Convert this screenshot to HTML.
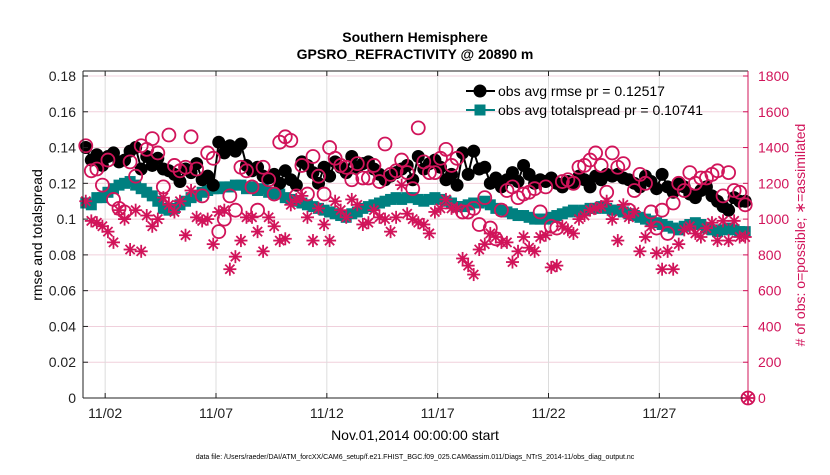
<!DOCTYPE html>
<html><head><meta charset="utf-8"><style>
body{margin:0;background:#fff;}
svg{font-family:"Liberation Sans",sans-serif;}
</style></head><body>
<svg id="chart" width="830" height="470">
<rect width="830" height="470" fill="#fff"/>
<text x="415" y="42" text-anchor="middle" font-size="14" font-weight="bold">Southern Hemisphere</text>
<text x="415" y="59" text-anchor="middle" font-size="14" font-weight="bold">GPSRO_REFRACTIVITY @ 20890 m</text>
<g id="grid"></g><g id="series"></g><g id="axes"></g>
<text transform="translate(42,235) rotate(-90)" text-anchor="middle" font-size="14">rmse and totalspread</text>
<text transform="translate(805,235) rotate(-90)" text-anchor="middle" font-size="14" fill="#d1145a"># of obs: o=possible; ∗=assimilated</text>
<text x="415" y="440" text-anchor="middle" font-size="14">Nov.01,2014 00:00:00 start</text>
<text x="415" y="459" text-anchor="middle" font-size="7">data file: /Users/raeder/DAI/ATM_forcXX/CAM6_setup/f.e21.FHIST_BGC.f09_025.CAM6assim.011/Diags_NTrS_2014-11/obs_diag_output.nc</text>
<g>
<line x1="466" y1="91" x2="495" y2="91" stroke="#000" stroke-width="2"/>
<circle cx="480" cy="91" r="6.5" fill="#000"/>
<text x="498" y="96" font-size="14">obs avg rmse pr = 0.12517</text>
<line x1="466" y1="110" x2="495" y2="110" stroke="#008080" stroke-width="2"/>
<rect x="474.5" y="104.5" width="11" height="11" fill="#008080"/>
<text x="498" y="115" font-size="14">obs avg totalspread pr = 0.10741</text>
</g>
</svg>
<script>
const xTickLabels=["11/02","11/07","11/12","11/17","11/22","11/27"];
const xTickDays=[1,6,11,16,21,26];
const yTicks=[0,0.02,0.04,0.06,0.08,0.1,0.12,0.14,0.16,0.18];
const yTickLabels=["0","0.02","0.04","0.06","0.08","0.1","0.12","0.14","0.16","0.18"];
const y2Ticks=[0,200,400,600,800,1000,1200,1400,1600,1800];
const rmse=[.140,.133,.136,.130,.135,.137,.132,.133,.138,.140,.128,.135,.130,.134,.128,.127,.125,.121,.128,.126,.131,.122,.124,.119,.143,.137,.141,.138,.142,.130,.127,.129,.124,.123,.125,.120,.127,.122,.119,.132,.130,.126,.120,.129,.124,.132,.129,.126,.135,.129,.131,.132,.128,.125,.122,.124,.126,.128,.130,.122,.135,.128,.131,.133,.129,.122,.125,.119,.137,.125,.138,.128,.129,.120,.123,.118,.122,.126,.121,.130,.125,.120,.122,.121,.123,.120,.118,.121,.120,.124,.122,.118,.124,.122,.125,.124,.125,.123,.122,.120,.118,.124,.121,.117,.125,.118,.115,.120,.118,.114,.112,.116,.118,.113,.110,.107,.105,.112,.110,.110];
const spread=[.109,.108,.112,.112,.115,.117,.119,.12,.121,.119,.117,.115,.113,.11,.106,.105,.106,.108,.11,.112,.113,.115,.116,.117,.117,.118,.118,.119,.119,.117,.118,.116,.117,.115,.114,.114,.112,.111,.11,.109,.108,.107,.106,.105,.104,.103,.102,.101,.103,.104,.106,.107,.108,.109,.11,.111,.112,.111,.112,.112,.111,.11,.111,.112,.111,.11,.109,.107,.107,.108,.109,.109,.11,.108,.106,.105,.104,.103,.102,.102,.101,.1,.1,.1,.101,.102,.103,.104,.105,.104,.105,.106,.106,.107,.106,.105,.105,.104,.103,.102,.101,.1,.099,.098,.097,.096,.095,.094,.096,.097,.098,.097,.095,.094,.093,.094,.095,.094,.093,.093];
const possible=[1410,1270,1280,1190,1330,1110,1060,1040,1320,1240,1410,1390,1450,1370,1180,1470,1300,1270,1290,1460,1280,1130,1370,1340,930,1000,1130,1050,1290,1270,1180,1050,1290,1220,1140,1430,1460,1440,1130,1300,1140,1350,1240,1140,1400,1340,1300,1290,1220,1310,1230,1230,1300,1210,1420,1250,1270,1330,1260,1170,1510,1320,1260,1260,1340,1390,1300,1340,1040,1040,1060,970,1120,950,890,1050,1160,1180,1120,1140,1150,1170,1040,1180,960,950,1210,1220,1200,1290,1300,1330,1370,1300,1150,1370,1290,1310,1050,1160,1250,1200,1040,950,1050,920,1090,1200,1160,1260,1200,1230,1230,1250,1270,1130,1260,1160,1150,1080,0];
const assimilated=[1100,990,980,960,930,870,1050,1000,830,1050,820,1020,960,1000,1120,1080,1040,1100,910,1160,1010,990,1000,860,1040,1050,720,790,880,1010,1010,930,820,1010,960,880,890,1080,1110,1130,1010,880,1060,970,880,1100,1050,1010,1110,1080,970,980,1050,1010,1000,930,1010,1190,1030,1000,980,970,920,1040,1060,1110,1060,1060,780,740,690,830,860,920,900,870,870,760,820,900,840,820,900,910,730,740,960,940,920,1000,1020,1050,1060,1070,1100,1000,880,1080,1010,1040,820,900,960,810,720,820,720,860,940,960,920,900,950,980,880,990,880,990,900,900,0];

const NS="http://www.w3.org/2000/svg";
const L=83,R=748,T=71,B=398;
const x=d=>L+(d/30)*(R-L);
const y=v=>398-v*(322/0.18);
const y2=c=>y(c/10000);
function mk(t,a,p){const e=document.createElementNS(NS,t);for(const k in a)e.setAttribute(k,a[k]);p.appendChild(e);return e;}
const grid=document.getElementById('grid'),ser=document.getElementById('series'),ax=document.getElementById('axes');
yTicks.forEach(v=>{const l=mk('line',{x1:L,x2:R,y1:y(v),y2:y(v),stroke:'#f0d0dc','stroke-width':1},grid);

});
xTickDays.forEach(d=>{const l=mk('line',{x1:x(d),x2:x(d),y1:T,y2:B,stroke:'#dcdcdc','stroke-width':1},grid);

});
const sp=mk('polyline',{points:spread.map((v,i)=>x(i/4+0.125)+','+y(v)).join(' '),fill:'none',stroke:'#008080','stroke-width':2},ser);


spread.forEach((v,i)=>{const r=mk('rect',{x:x(i/4+0.125)-5.5,y:y(v)-5.5,width:11,height:11,fill:'#008080'},ser);

});
const rl=mk('polyline',{points:rmse.map((v,i)=>x(i/4+0.125)+','+y(v)).join(' '),fill:'none',stroke:'#000','stroke-width':2},ser);


rmse.forEach((v,i)=>{const c=mk('circle',{cx:x(i/4+0.125),cy:y(v),r:6.5,fill:'#000'},ser);

});
function dayOf(i){return i<120?i/4+0.125:30;}
possible.forEach((v,i)=>{const c=mk('circle',{cx:x(dayOf(i)),cy:y2(v),r:6.5,fill:'none',stroke:'#d1145a','stroke-width':1.8},ser);

});
assimilated.forEach((v,i)=>{const cx=x(dayOf(i)),cy=y2(v);const g=mk('g',{stroke:'#d1145a','stroke-width':1.8},ser);


[[0,6.5],[6.5,0],[4.6,4.6],[4.6,-4.6]].forEach(([a,b])=>mk('line',{x1:cx-a,y1:cy-b,x2:cx+a,y2:cy+b},g));});
mk('line',{x1:L,y1:T,x2:R,y2:T,stroke:'#222'},ax);
mk('line',{x1:L,y1:B,x2:R,y2:B,stroke:'#222'},ax);
mk('line',{x1:L,y1:T,x2:L,y2:B,stroke:'#222'},ax);
mk('line',{x1:R,y1:T,x2:R,y2:B,stroke:'#d1145a'},ax);
yTicks.forEach((v,i)=>{mk('line',{x1:L,x2:L+5,y1:y(v),y2:y(v),stroke:'#222'},ax);
const t=mk('text',{x:L-7,y:y(v)+5,'text-anchor':'end','font-size':14,fill:'#222'},ax);t.textContent=yTickLabels[i];

});
y2Ticks.forEach(v=>{mk('line',{x1:R-5,x2:R,y1:y2(v),y2:y2(v),stroke:'#d1145a'},ax);
const t=mk('text',{x:R+10,y:y2(v)+5,'font-size':14,fill:'#d1145a'},ax);t.textContent=v;

});
xTickDays.forEach((d,i)=>{mk('line',{x1:x(d),x2:x(d),y1:B,y2:B-5,stroke:'#222'},ax);mk('line',{x1:x(d),x2:x(d),y1:T,y2:T+5,stroke:'#222'},ax);
const t=mk('text',{x:x(d),y:418,'text-anchor':'middle','font-size':14,fill:'#222'},ax);t.textContent=xTickLabels[i];

});
</script>
</body></html>
